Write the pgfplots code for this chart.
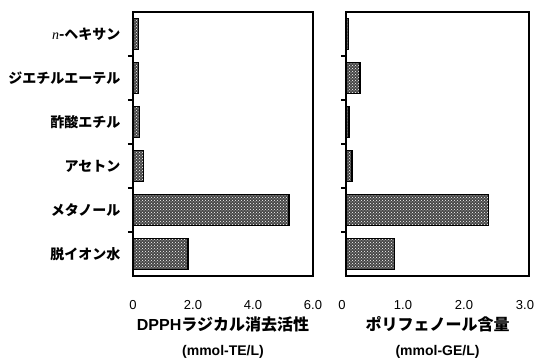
\documentclass[border=0pt]{standalone}
\usepackage{pgfplots}
\pgfplotsset{compat=1.18}
\usetikzlibrary{patterns}
\usepackage{fontspec}
\setmainfont{Liberation Sans}
\newfontfamily\cjk{Noto Sans CJK JP}
\newfontfamily\serifit{Liberation Serif}
\begin{document}
\begin{tikzpicture}
\path[use as bounding box] (0pt,0pt) rectangle (536pt,361pt);
\pgfplotsset{
  myax/.style={
    scale only axis,
    height=264pt,
    ymin=-0.5, ymax=5.5,
    ytick={0,1,2,3,4,5},
    minor ytick={0.5,1.5,2.5,3.5,4.5},
    major tick length=0pt,
    minor tick length=5pt,
    ytick pos=left,
    xtick pos=bottom,
    xtick align=inside,
    ytick align=outside,
    axis line style={line width=1.3pt},
    every tick/.style={line width=1.1pt, black},
    every minor tick/.style={line width=1.1pt, black},
    xbar, bar width=0.7,
    xmin=0,
    /pgf/number format/assume math mode=true,
    tick label style={font=\fontsize{13}{15}\selectfont},
    xticklabel style={yshift=-21pt},
    xlabel style={at={(axis description cs:0.5,0)}, anchor=north, yshift=-37pt, align=center, font=\fontsize{16}{25}\selectfont\bfseries},
  },
  mybar/.style={draw=black, line width=1.3pt, fill=black!72,
    postaction={pattern=crosshatch dots, pattern color=white}},
}
\begin{axis}[myax, at={(133pt,85pt)}, anchor=south west, width=180pt,
  xmax=6, xtick={0,2,4,6}, xticklabels={0,2.0,4.0,6.0},
  yticklabels={{\cjk\bfseries 脱イオン水},{\cjk\bfseries メタノール},{\cjk\bfseries アセトン},{\cjk\bfseries 酢酸エチル},{\cjk\bfseries ジエチルエーテル},{{\serifit\itshape n}\cjk\bfseries -ヘキサン}},
  yticklabel style={font=\fontsize{14}{16}\selectfont, xshift=-9pt},
  xlabel={DPPH{\cjk\bfseries ラジカル消去活性}\\{\fontsize{14}{16}\selectfont (mmol-TE/L)}}]
\addplot[mybar] coordinates {(1.83,0) (5.2,1) (0.35,2) (0.22,3) (0.18,4) (0.18,5)};
\end{axis}
\begin{axis}[myax, at={(346pt,85pt)}, anchor=south west, width=183pt,
  xmax=3, xtick={0,1,2,3}, xticklabels={0,1.0,2.0,3.0},
  xticklabel style={xshift=-4pt},
  yticklabels={},
  xlabel={{\cjk\bfseries ポリフェノール含量}\\{\fontsize{14}{16}\selectfont (mmol-GE/L)}}]
\addplot[mybar] coordinates {(0.79,0) (2.34,1) (0.1,2) (0.05,3) (0.23,4) (0.04,5)};
\end{axis}
\end{tikzpicture}
\end{document}
